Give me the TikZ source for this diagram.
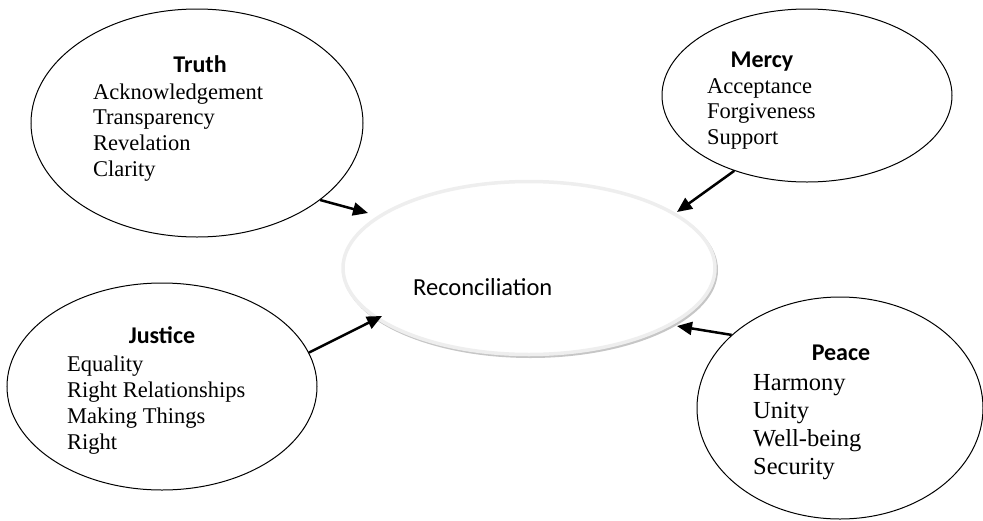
\documentclass[tikz,border=0pt]{standalone}
\usepackage{fontspec}
\setmainfont{Liberation Serif}
\newfontfamily\carlito{Carlito}
\usetikzlibrary{shapes.geometric,arrows.meta}
\tikzset{
  bubble/.style={ellipse, draw=black, line width=1pt, inner sep=0pt},
  head/.style={anchor=base, inner sep=0pt, font=\carlito\bfseries\fontsize{24}{28}\selectfont},
  item/.style={anchor=base west, inner sep=0pt, font=\fontsize{22.5}{26}\selectfont},
  itembig/.style={anchor=base west, inner sep=0pt, font=\fontsize{24.5}{28}\selectfont},
  link/.style={line width=2.5pt, -{Triangle[length=15pt,width=13pt]}},
}
\begin{document}
\begin{tikzpicture}[x=1pt,y=-1pt]
\useasboundingbox (0,0) rectangle (983,520);
% central ellipse with soft shadow
\node[ellipse, minimum width=372pt, minimum height=173pt, draw=gray!45, line width=3pt, inner sep=0pt] (reconshadow) at (530.5,270) {};
\node[ellipse, minimum width=372pt, minimum height=173pt, draw=gray!13, fill=white, line width=3.5pt, inner sep=0pt] (recon) at (529,268) {};
\node[anchor=base west, inner sep=0pt, font=\carlito\fontsize{24.5}{28}\selectfont] (recontext) at (413,295) {Reconciliation};
% outer ellipses
\node[bubble, minimum width=332pt, minimum height=228pt] (truth) at (197,123) {};
\node[bubble, minimum width=290pt, minimum height=173pt] (mercy) at (807,95.5) {};
\node[bubble, minimum width=310pt, minimum height=207pt] (justice) at (162,386.5) {};
\node[bubble, minimum width=286pt, minimum height=222pt] (peace) at (840,408) {};
% Truth
\node[head] (truthhead) at (200,72) {Truth};
\node[item] (t1) at (93,99) {Acknowledgement};
\node[item] (t2) at (93,124.5) {Transparency};
\node[item] (t3) at (93,150) {Revelation};
\node[item] (t4) at (93,176) {Clarity};
% Mercy
\node[head] (mercyhead) at (762,67) {Mercy};
\node[item] (m1) at (707,93) {Acceptance};
\node[item] (m2) at (707,118.5) {Forgiveness};
\node[item] (m3) at (707,144) {Support};
% Justice
\node[head] (justicehead) at (162,343) {Justice};
\node[item] (j1) at (67,371) {Equality};
\node[item] (j2) at (67,397) {Right Relationships};
\node[item] (j3) at (67,423) {Making Things};
\node[item] (j4) at (67,449) {Right};
% Peace
\node[head] (peacehead) at (841,360) {Peace};
\node[itembig] (p1) at (753,390) {Harmony};
\node[itembig] (p2) at (753,418) {Unity};
\node[itembig] (p3) at (753,446) {Well-being};
\node[itembig] (p4) at (753,474) {Security};
% arrow tips near the central ellipse
\coordinate (tipT) at (368,213);
\coordinate (tipM) at (677,212);
\coordinate (tipJ) at (382,316);
\coordinate (tipP) at (677,326);
\draw[link] (truth.-32.4) -- (tipT);
\draw[link] (mercy.226.7) -- (tipM);
\draw[link] (justice.13.6) -- (tipJ);
\draw[link] (peace.146.6) -- (tipP);
\end{tikzpicture}
\end{document}
